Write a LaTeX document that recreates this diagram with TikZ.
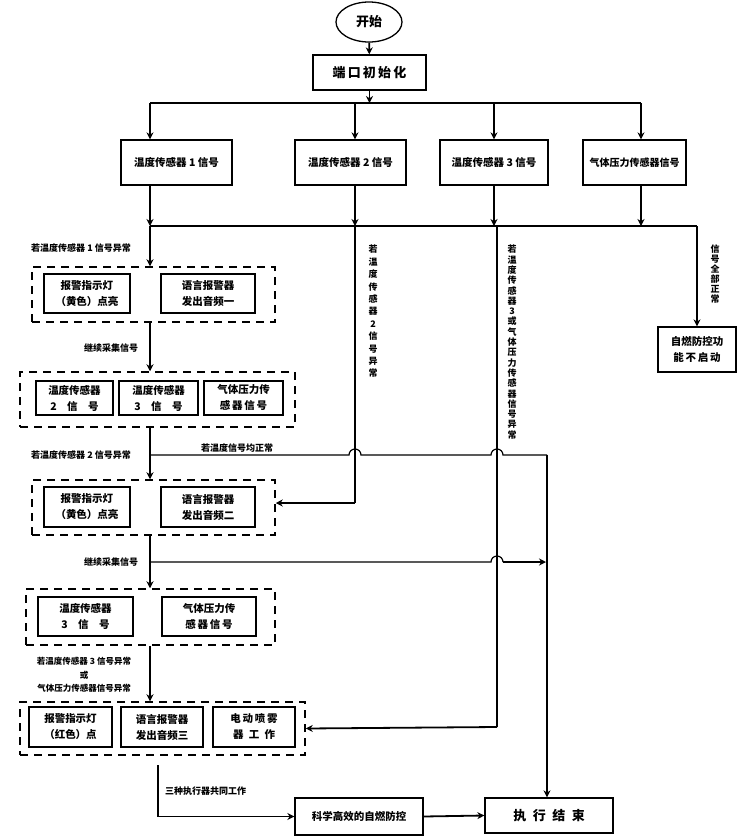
\documentclass[tikz,border=0pt]{standalone}
\usepackage{fontspec}
\setmainfont{Noto Sans CJK SC}
\usetikzlibrary{arrows.meta,shapes.geometric}
\begin{document}
\begin{tikzpicture}[x=1pt,y=-1pt,
 box/.style={draw,line width=1.3pt,inner sep=1pt,align=center,font=\fontsize{10.5}{16}\selectfont\bfseries},
 dbox/.style={draw,line width=1.5pt,dash pattern=on 8pt off 6pt,inner sep=0pt},
 arr/.style={line width=1.8pt,-{Stealth[length=7pt,width=7pt]}},
 ln/.style={line width=1.2pt},
 lab/.style={font=\fontsize{9}{10}\selectfont\bfseries,inner sep=0pt},
 vlab/.style={lab,align=center,anchor=north}]
\useasboundingbox (0,0) rectangle (740,839);
\node[draw,ellipse,line width=1.3pt,minimum width=66pt,minimum height=40pt,font=\fontsize{13}{14}\selectfont\bfseries] (start) at (369,22) {开始};
\node[box,minimum width=113pt,minimum height=35pt,font=\fontsize{13}{14}\selectfont\bfseries] (init) at (369.5,72.5) {端\,口\,初\,始\,化};
\node[box,minimum width=111pt,minimum height=45pt] (s1) at (176.5,162.5) {温度传感器 1 信号};
\node[box,minimum width=111pt,minimum height=45pt] (s2) at (350.5,162.5) {温度传感器 2 信号};
\node[box,minimum width=108pt,minimum height=45pt] (s3) at (494,162.5) {温度传感器 3 信号};
\node[box,minimum width=103pt,minimum height=45pt,font=\fontsize{10}{14}\selectfont\bfseries] (s4) at (634.5,162.5) {气体压力传感器信号};
\coordinate (b1) at (150,103); \coordinate (b2) at (355,103); \coordinate (b3) at (494,103); \coordinate (b4) at (641,103);
\coordinate (c1) at (150,226); \coordinate (c2) at (355,226); \coordinate (c3) at (494,226); \coordinate (c4) at (641,226); \coordinate (c5) at (697,226);
\draw[arr] (start) -- (init);
\draw[arr] (init) -- (init.south |- b1);
\draw[ln,line width=1.6pt] (b1) -- (b4);
\foreach \i/\s in {1/s1,2/s2,3/s3,4/s4}{\draw[arr] (b\i) -- (b\i |- \s.north); \draw[arr] (b\i |- \s.south) -- (c\i);}
\draw[ln,line width=1.6pt] (c1) -- (c5);
\node[box,minimum width=78pt,minimum height=45pt] (z) at (697,349.5) {自燃防控功\\能\,不\,启\,动};
\draw[arr] (c5) -- (z.north);
\node[vlab] at (715,245) {信\\号\\全\\部\\正\\常};
\node[dbox,minimum width=243pt,minimum height=55pt] (d1) at (153.5,294.5) {};
\node[box,minimum width=86pt,minimum height=39pt] at (87,293.5) {报警指示灯\\（黄色）点亮};
\node[box,minimum width=94pt,minimum height=39pt] at (208,293.5) {语言报警器\\发出音频一};
\node[dbox,minimum width=275pt,minimum height=55pt] (d2) at (157.5,399.5) {};
\node[box,minimum width=77pt,minimum height=34pt] at (74.5,398) {温度传感器\\2\quad 信\quad 号};
\node[box,minimum width=79pt,minimum height=34pt] at (158.5,398) {温度传感器\\3\quad 信\quad 号};
\node[box,minimum width=79pt,minimum height=34pt] at (243.5,398) {气体压力传\\感\,器\,信\,号};
\node[dbox,minimum width=243pt,minimum height=55pt] (d3) at (153.5,507.5) {};
\node[box,minimum width=86pt,minimum height=40pt] at (87,507) {报警指示灯\\（黄色）点亮};
\node[box,minimum width=94pt,minimum height=40pt] at (208,507) {语言报警器\\发出音频二};
\node[dbox,minimum width=249pt,minimum height=56pt] (d4) at (150.5,617) {};
\node[box,minimum width=95pt,minimum height=39pt] at (85.5,616.5) {温度传感器\\3\quad 信\quad 号};
\node[box,minimum width=94pt,minimum height=39pt] at (209,616.5) {气体压力传\\感\,器\,信\,号};
\node[dbox,minimum width=285pt,minimum height=53pt] (d5) at (162.5,728.5) {};
\node[box,minimum width=83pt,minimum height=40pt] at (70.5,727) {报警指示灯\\（红色）点};
\node[box,minimum width=82pt,minimum height=40pt] at (162,727) {语言报警器\\发出音频三};
\node[box,minimum width=82pt,minimum height=40pt] at (254,727) {电\,动\,喷\,雾\\器\enspace 工\enspace 作};
\node[box,minimum width=128pt,minimum height=37pt] (k) at (359,816.5) {科学高效的自燃防控};
\node[box,minimum width=128pt,minimum height=35pt,font=\fontsize{13}{14}\selectfont\bfseries] (fin) at (549,815.5) {执\enspace 行\enspace 结\enspace 束};
\coordinate (X) at (150,0);
\draw[arr] (c1) -- (d1.north -| X);
\draw[arr] (d1.south -| X) -- (d2.north -| X);
\draw[arr] (d2.south -| X) -- (d3.north -| X);
\draw[arr] (d3.south -| X) -- (d4.north -| X);
\draw[arr] (d4.south -| X) -- (d5.north -| X);
\node[lab] at (81,248) {若温度传感器 1 信号异常};
\node[lab] at (111,348) {继续采集信号};
\node[lab] at (81,455) {若温度传感器 2 信号异常};
\node[lab] at (111,562) {继续采集信号};
\node[lab,align=center,font=\fontsize{8.5}{13.5}\selectfont\bfseries] at (84,675) {若温度传感器 3 信号异常\\或\\气体压力传感器信号异常};
\coordinate (e2) at (355,503); \coordinate (e3) at (497,727);
\draw[ln,line width=1.8pt] (c2) -- (e2);
\draw[arr] (e2) -- (d3.east |- e2);
\draw[ln,line width=1.8pt] (497,226) -- (e3);
\draw[arr] (e3) -- (d5.east);
\node[vlab,font=\fontsize{9}{12.4}\selectfont\bfseries] at (373,245) {若\\温\\度\\传\\感\\器\\2\\信\\号\\异\\常};
\node[vlab,font=\fontsize{9}{10.3}\selectfont\bfseries] at (512,245) {若\\温\\度\\传\\感\\器\\3\\或\\气\\体\\压\\力\\传\\感\\器\\信\\号\\异\\常};
\coordinate (n1) at (150,455); \coordinate (n2) at (547,455);
\draw[ln] (n1) -- (349,455) arc[start angle=180,end angle=0,radius=6pt] -- (491,455) arc[start angle=180,end angle=0,radius=6pt] -- (n2);
\draw[arr] (n2) -- (fin.north -| n2);
\node[lab] at (237,448) {若温度信号均正常};
\coordinate (m1) at (150,562);
\draw[ln] (m1) -- (491,562) arc[start angle=180,end angle=0,radius=6pt] -- (503,562);
\draw[arr] (503,562) -- (546,562);
\coordinate (q1) at (158,765); \coordinate (q2) at (158,816.5);
\draw[ln,line width=1.8pt] (q1) -- (q2);
\draw[arr] (q2) -- (k.west);
\node[lab,anchor=west] at (165,791) {三种执行器共同工作};
\draw[arr] (k.east) -- (fin.west);
\end{tikzpicture}
\end{document}
